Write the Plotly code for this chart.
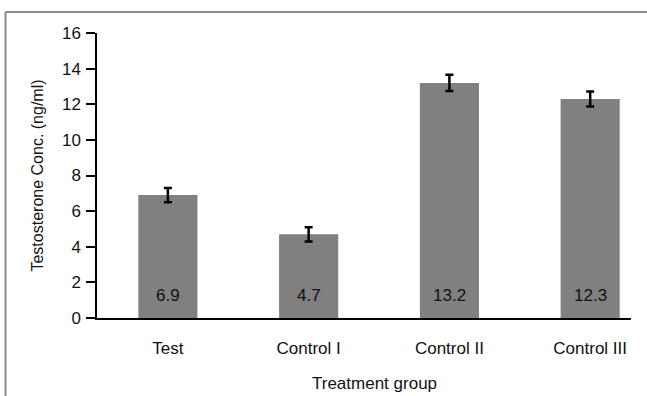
import plotly.graph_objects as go

categories = ["Test", "Control I", "Control II", "Control III"]
values = [6.9, 4.7, 13.2, 12.3]
errors = [0.4, 0.4, 0.45, 0.42]
y_ticks = [0, 2, 4, 6, 8, 10, 12, 14, 16]

xpos = list(range(len(categories)))
FONT = "Liberation Sans, Arial, sans-serif"
TXT = "#111111"

fig = go.Figure()
fig.add_trace(go.Bar(
    x=xpos, y=values, width=0.42,
    marker=dict(color="#808080", line=dict(width=0)),
    error_y=dict(type="data", array=errors, visible=True,
                 color="black", thickness=2.5, width=4),
    hoverinfo="skip",
))

for xi, v in zip(xpos, values):
    fig.add_annotation(x=xi, y=0, text=f"{v:.1f}", showarrow=False,
                       yanchor="bottom", yshift=11,
                       font=dict(family=FONT, size=17, color=TXT))

W, H = 647, 396
L, R, T, B = 97, 16, 33, 78
pw, ph = W - L - R, H - T - B
def px_x(p):
    return (p - L) / pw
def px_y(p):
    return (H - B - p) / ph

fig.add_annotation(xref="paper", yref="paper", x=px_x(374), y=px_y(383),
                   text="Treatment group", showarrow=False,
                   xanchor="center", yanchor="middle",
                   font=dict(family=FONT, size=17, color=TXT))

frame = dict(color="#8a8a8a", width=2)
fig.add_shape(type="line", xref="paper", yref="paper",
              x0=px_x(5.5), x1=px_x(5.5), y0=px_y(12), y1=px_y(400), line=frame)
fig.add_shape(type="line", xref="paper", yref="paper",
              x0=px_x(5.5), x1=px_x(650), y0=px_y(12), y1=px_y(12), line=frame)

fig.update_layout(
    width=W, height=H,
    margin=dict(l=L, r=R, t=T, b=B, autoexpand=False),
    paper_bgcolor="white", plot_bgcolor="white",
    showlegend=False,
    font=dict(family=FONT, size=17, color=TXT),
)
fig.update_xaxes(
    range=[-0.5035, 3.29],
    tickvals=xpos, ticktext=categories,
    showline=True, linecolor="black", linewidth=1.5,
    ticks="", showgrid=False, zeroline=False,
    ticklabelstandoff=14,
    tickfont=dict(family=FONT, size=17, color=TXT),
)
fig.update_yaxes(
    range=[0, 16],
    tickvals=y_ticks,
    showline=True, linecolor="black", linewidth=1.5,
    ticks="outside", ticklen=9, tickcolor="black", tickwidth=1.5,
    showgrid=False, zeroline=False,
    ticklabelstandoff=2,
    title=dict(text="Testosterone Conc. (ng/ml)", standoff=14,
               font=dict(family=FONT, size=16, color=TXT)),
    tickfont=dict(family=FONT, size=17, color=TXT),
)

fig.write_html(
    "out.html",
    config={"displayModeBar": False},
    post_script="document.body.style.margin='0';document.body.style.overflow='hidden';",
)
